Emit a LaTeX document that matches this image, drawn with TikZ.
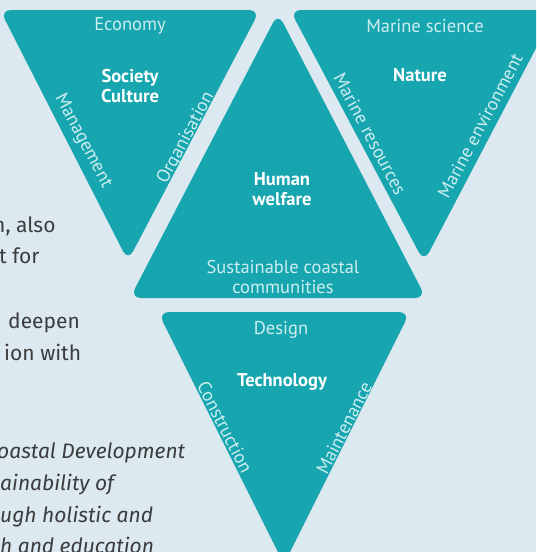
\documentclass[tikz,border=0pt]{standalone}
\usepackage{fontspec}
\setmainfont{Fira Sans}
\newfontfamily\labfont{PT Sans}
\definecolor{bg}{RGB}{221,233,240}
\definecolor{tealfill}{RGB}{23,166,175}
\definecolor{pale}{RGB}{205,238,240}
\definecolor{bodytext}{RGB}{58,60,62}
\begin{document}
\begin{tikzpicture}[x=1pt,y=-1pt,
  tri/.style={fill=tealfill, rounded corners=11pt},
  lbl/.style={font=\labfont\fontsize{18.5}{20}\selectfont, text=pale, inner sep=0pt, align=center},
  hd/.style={font=\labfont\bfseries\fontsize{18.5}{20}\selectfont, text=white, inner sep=0pt, align=center},
  body/.style={font=\fontsize{21}{24}\selectfont, text=bodytext, anchor=base west, inner sep=0pt},
  bodyit/.style={body, font=\itshape\fontsize{21}{24}\selectfont},
]
\useasboundingbox (0,0) rectangle (536,552);
\clip (0,0) rectangle (536,552);
\fill[bg] (0,0) rectangle (536,552);

% body text (cropped paragraph)
\node[body] (t1) at (-7,232) {n, also};
\node[body] (t2) at (-1,263) {t for};
\node[body] (t3) at (8,328) {deepen};
\node[body] (t4) at (4,360) {ion with};
\node[bodyit] (t5) at (-3,458) {oastal Development};
\node[bodyit] (t6) at (0,490) {ainability of};
\node[bodyit] (t7) at (0,522) {ugh holistic and};
\node[bodyit] (t8) at (0,553) {h and education};

% triangles
\fill[tri] (0,10) -- (260,10) -- (128,261) -- cycle;
\fill[tri] (290,10) -- (556,10) -- (424,262) -- cycle;
\fill[tri] (130,298) -- (278,13) -- (426,298) -- cycle;
\fill[tri] (158,312) -- (410,312) -- (284,564) -- cycle;

% Society triangle
\node[lbl, anchor=base] (econ) at (130,30) {Economy};
\node[hd] (soc) at (130,86) {Society\\Culture};
\node[lbl, rotate=-62] (mgmt) at (83,141) {Management};
\node[lbl, rotate=62] (org) at (186,138) {Organisation};

% Nature triangle
\node[lbl, anchor=base] (msci) at (425,32) {Marine science};
\node[hd, anchor=base] (nat) at (420,81) {Nature};
\node[lbl, rotate=-62] (mres) at (370,134) {Marine resources};
\node[lbl, rotate=62] (menv) at (480,126) {Marine environment};

% Human welfare triangle
\node[hd] (hum) at (282,189) {Human\\welfare};
\node[lbl] (scc) at (283,277) {Sustainable coastal\\communities};

% Technology triangle
\node[lbl, anchor=base] (des) at (281,334) {Design};
\node[hd, anchor=base] (tech) at (282,386) {Technology};
\node[lbl, rotate=-63] (cons) at (225,427) {Construction};
\node[lbl, rotate=63] (mnt) at (344,428) {Maintenance};
\end{tikzpicture}
\end{document}
